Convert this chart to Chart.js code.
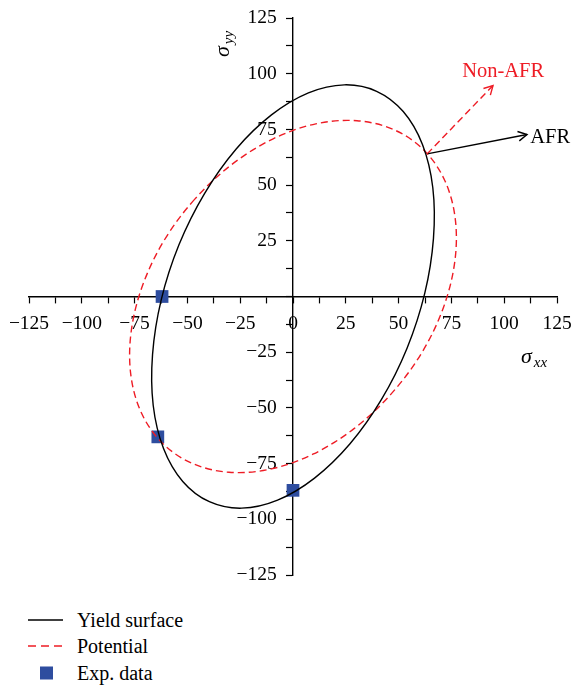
<!DOCTYPE html>
<html><head><meta charset="utf-8">
<script src="https://cdn.jsdelivr.net/npm/chart.js@4.4.0/dist/chart.umd.min.js"></script>
<style>
html,body{margin:0;padding:0;background:#fff;}
#wrap{position:relative;width:572px;height:686px;overflow:hidden;}
#c{position:absolute;left:0;top:0;}
.row{position:absolute;left:0;width:300px;height:22px;font-family:"Liberation Serif","DejaVu Serif",serif;font-size:20px;color:#000;}
.row span{position:absolute;left:77px;top:0;line-height:22px;white-space:nowrap;}
.row svg{position:absolute;left:0;top:0;}
</style></head><body>
<div id="wrap">
<canvas id="c" width="572" height="600"></canvas>
<div class="row" style="top:609px"><svg width="70" height="22"><line x1="28" y1="11" x2="63" y2="11" stroke="#000" stroke-width="1.4"/></svg><span>Yield surface</span></div>
<div class="row" style="top:635px"><svg width="70" height="22"><line x1="28" y1="11" x2="63" y2="11" stroke="#ee1c25" stroke-width="1.4" stroke-dasharray="8 5"/></svg><span>Potential</span></div>
<div class="row" style="top:662px"><svg width="70" height="22"><rect x="40" y="4.5" width="13" height="13" fill="#2e4d9f"/></svg><span>Exp. data</span></div>
</div>
<script>
// ---- data (closed curves; first and last segment only overlap the seam) ----
const yieldX = [-41.9, -54.0, -62.4, -66.5, -66.2, -61.3, -52.2, -39.6, -24.3, -7.3, 10.2, 27.0, 41.9, 54.0,
  62.4, 66.5, 66.2, 61.3, 52.2, 39.6, 24.3, 7.3, -10.2, -27.0, -41.9, -54.0, -62.4];
const yieldY = [46.2, 23.2, -1.5, -26.0, -48.8, -68.2, -83.0, -92.1, -95.0, -91.4, -81.5, -66.1, -46.2, -23.2,
  1.5, 26.0, 48.8, 68.2, 83.0, 92.1, 95.0, 91.4, 81.5, 66.1, 46.2, 23.2, -1.5];
const potX = [-28.9, -46.5, -61.0, -71.2, -76.6, -76.8, -71.8, -61.9, -47.7, -30.3, -10.8, 9.4, 28.9, 46.5,
  61.0, 71.2, 76.6, 76.8, 71.8, 61.9, 47.7, 30.3, 10.8, -9.4, -28.9, -46.5, -61.0];
const potY = [59.3, 43.7, 25.2, 5.0, -15.6, -35.1, -52.2, -65.8, -74.9, -78.9, -77.5, -70.8, -59.3, -43.7,
  -25.2, -5.0, 15.6, 35.1, 52.2, 65.8, 74.9, 78.9, 77.5, 70.8, 59.3, 43.7, 25.2];
const expX = [-62, -64, 0];
const expY = [0, -63, -87];
const afrX = [63.5, 110.8];
const afrY = [64, 72.7];
const nonAfrX = [63.5, 94.7];
const nonAfrY = [64, 94.7];
const majorTicks = [-125, -100, -75, -50, -25, 0, 25, 50, 75, 100, 125];

const zip = (xs, ys) => xs.map((v, i) => ({x: v, y: ys[i]}));
const RED = '#ee1c25', BLUE = '#2e4d9f';
const SERIF = '"Liberation Serif","DejaVu Serif",serif';
const fmt = v => v < 0 ? '\u2212' + Math.abs(v) : String(v);
const hideSeam = n => ({borderColor: c => (c.p0DataIndex === 0 || c.p1DataIndex === n - 1) ? 'rgba(0,0,0,0)' : undefined});
const noPad = s => { s.paddingLeft = 0; s.paddingRight = 0; s.paddingTop = 0; s.paddingBottom = 0; };

const annot = {
  id: 'annot',
  afterDatasetsDraw(chart) {
    const {ctx, scales: {x, y}} = chart;
    function head(x0, y0, x1, y1, color) {
      const a = Math.atan2(y1 - y0, x1 - x0), L = 10, w = 0.5;
      ctx.save();
      ctx.strokeStyle = color; ctx.lineWidth = 1.4; ctx.setLineDash([]);
      ctx.beginPath();
      ctx.moveTo(x1 - L * Math.cos(a - w), y1 - L * Math.sin(a - w));
      ctx.lineTo(x1, y1);
      ctx.lineTo(x1 - L * Math.cos(a + w), y1 - L * Math.sin(a + w));
      ctx.stroke();
      ctx.restore();
    }
    head(x.getPixelForValue(afrX[0]), y.getPixelForValue(afrY[0]), x.getPixelForValue(afrX[1]), y.getPixelForValue(afrY[1]), '#000');
    head(x.getPixelForValue(nonAfrX[0]), y.getPixelForValue(nonAfrY[0]), x.getPixelForValue(nonAfrX[1]), y.getPixelForValue(nonAfrY[1]), RED);
    ctx.save();
    ctx.font = '20.5px ' + SERIF;
    ctx.textBaseline = 'middle';
    ctx.fillStyle = '#000'; ctx.textAlign = 'left';
    ctx.fillText('AFR', x.getPixelForValue(112.3), y.getPixelForValue(71.3));
    ctx.fillStyle = RED; ctx.textAlign = 'center';
    ctx.fillText('Non-AFR', x.getPixelForValue(99.5), y.getPixelForValue(101));
    // axis titles
    function sigma(px, py, sub, rot) {
      ctx.save();
      ctx.translate(px, py);
      if (rot) ctx.rotate(-Math.PI / 2);
      ctx.fillStyle = '#000';
      ctx.textAlign = 'left'; ctx.textBaseline = 'alphabetic';
      ctx.font = 'italic 22px ' + SERIF;
      const w1 = ctx.measureText('\u03c3').width;
      ctx.font = 'italic 15px ' + SERIF;
      const w2 = ctx.measureText(sub).width;
      const sx = -(w1 + w2 + 2) / 2;
      ctx.font = 'italic 22px ' + SERIF;
      ctx.fillText('\u03c3', sx, 5);
      ctx.font = 'italic 15px ' + SERIF;
      ctx.fillText(sub, sx + w1 + 2, 9);
      ctx.restore();
    }
    sigma(224, 44, 'yy', true);
    sigma(534, 358, 'xx', false);
    ctx.restore();
  }
};

new Chart(document.getElementById('c'), {
  type: 'line',
  data: {
    datasets: [
      {label: 'Yield surface', data: zip(yieldX, yieldY), borderColor: '#000', borderWidth: 1.4, pointRadius: 0, tension: 0.34, fill: false, segment: hideSeam(yieldX.length)},
      {label: 'Potential', data: zip(potX, potY), borderColor: RED, borderWidth: 1.4, borderDash: [7, 4], pointRadius: 0, tension: 0.34, fill: false, segment: hideSeam(potX.length)},
      {label: 'AFR', data: zip(afrX, afrY), borderColor: '#000', borderWidth: 1.4, pointRadius: 0, tension: 0, fill: false},
      {label: 'Non-AFR', data: zip(nonAfrX, nonAfrY), borderColor: RED, borderWidth: 1.4, borderDash: [7, 4], pointRadius: 0, tension: 0, fill: false},
      {label: 'Exp. data', data: zip(expX, expY), showLine: false, pointStyle: 'rect', pointRadius: 9, pointBackgroundColor: BLUE, pointBorderColor: BLUE, pointBorderWidth: 0}
    ]
  },
  options: {
    responsive: false,
    animation: false,
    layout: {padding: {left: 29, right: 15, top: 18, bottom: 25}},
    plugins: {legend: {display: false}, tooltip: {enabled: false}},
    scales: {
      x: {
        type: 'linear', position: {y: 0}, min: -125, max: 125,
        afterFit: noPad,
        border: {color: '#000', width: 1.4},
        grid: {drawOnChartArea: false, drawTicks: true, tickLength: 6, color: '#000', tickWidth: 1.2},
        ticks: {stepSize: 12.5, autoSkip: false, maxRotation: 0, padding: 10, color: '#000',
          font: {family: SERIF, size: 19.5},
          callback: v => majorTicks.includes(v) ? fmt(v) : ''}
      },
      y: {
        type: 'linear', position: {x: 0}, min: -125, max: 125,
        afterFit: noPad,
        border: {color: '#000', width: 1.4},
        grid: {drawOnChartArea: false, drawTicks: true, tickLength: 6, color: '#000', tickWidth: 1.2},
        ticks: {stepSize: 12.5, autoSkip: false, padding: 10, color: '#000',
          font: {family: SERIF, size: 19.5},
          callback: v => (majorTicks.includes(v) && v !== 0) ? fmt(v) + '\u2002\u2004' : ''}
      }
    }
  },
  plugins: [annot]
});
</script>
</body></html>
